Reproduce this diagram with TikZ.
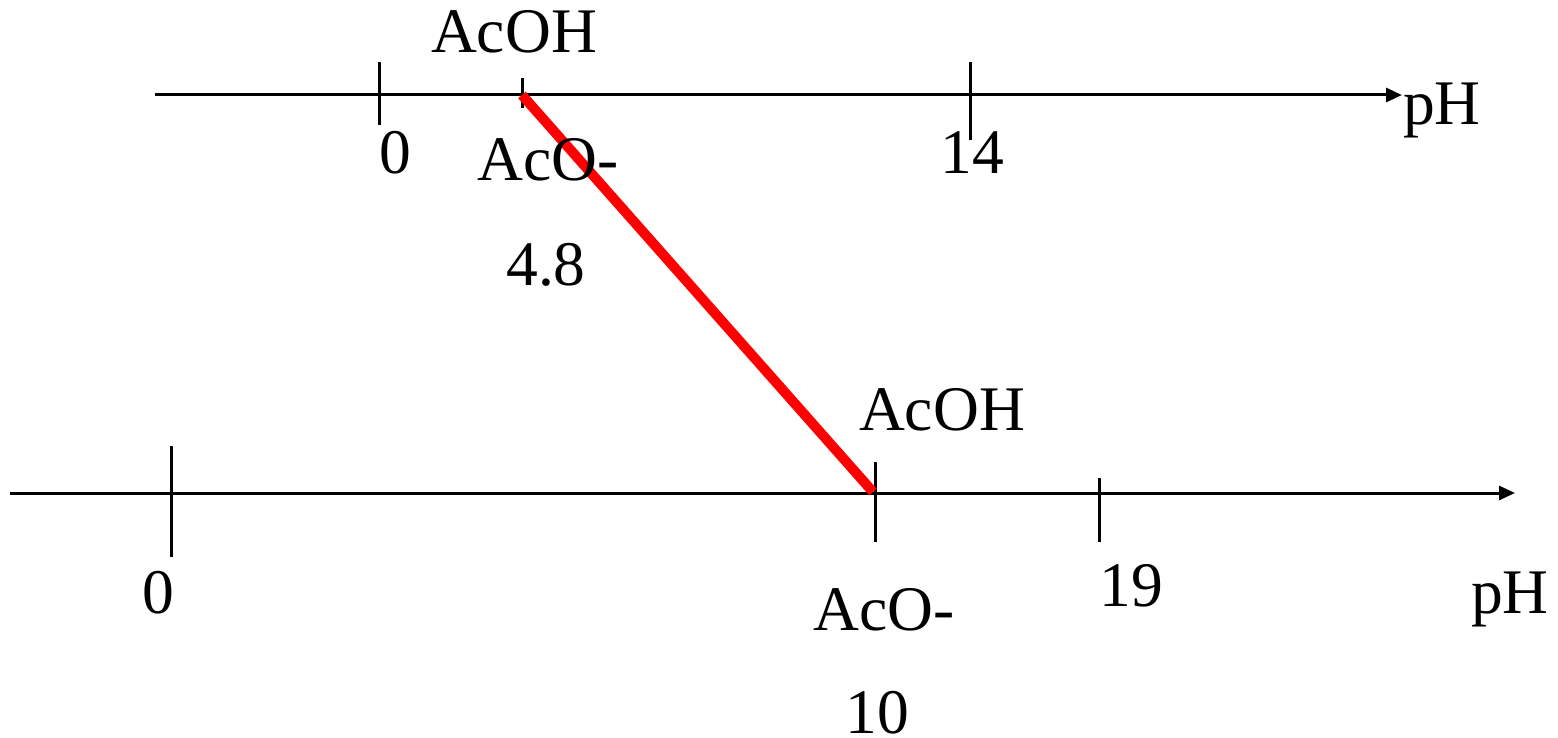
\documentclass[tikz,border=0pt]{standalone}
\usepackage{fontspec}
\setmainfont{Liberation Serif}
\usetikzlibrary{arrows.meta}
\begin{document}
\begin{tikzpicture}[x=1pt,y=-1pt,
  axisline/.style={line width=3pt,-{Triangle[length=16pt,width=14pt]}},
  tickline/.style={line width=3pt},
  lbl/.style={inner sep=0pt,anchor=base,font=\fontsize{63.5}{70}\selectfont},
  lblw/.style={lbl,anchor=base west},
  redline/.style={line width=10pt,red}]
\useasboundingbox (0,0) rectangle (1558,738);
% top axis
\coordinate (t0) at (155,95);
\coordinate (t1) at (1402,95);
\draw[axisline] (t0) -- (t1);
\coordinate (tA) at (379,62); \coordinate (tAe) at (379,125);
\draw[tickline] (tA) -- (tAe);
\coordinate (tB) at (522,78); \coordinate (tBe) at (522,108);
\draw[tickline] (tB) -- (tBe);
\coordinate (tC) at (970,62); \coordinate (tCe) at (970,140);
\draw[tickline] (tC) -- (tCe);
% bottom axis
\coordinate (b0) at (10,493);
\coordinate (b1) at (1515,493);
\draw[axisline] (b0) -- (b1);
\coordinate (bA) at (171,446); \coordinate (bAe) at (171,557);
\draw[tickline] (bA) -- (bAe);
\coordinate (bB) at (875,462); \coordinate (bBe) at (875,542);
\draw[tickline] (bB) -- (bBe);
\coordinate (bC) at (1099,478); \coordinate (bCe) at (1099,542);
\draw[tickline] (bC) -- (bCe);
% red line
\coordinate (r0) at (522,95);
\coordinate (r1) at (873,492);
\draw[redline] (r0) -- (r1);
% labels top
\node[lbl] (acoh1) at (514,53) {AcOH};
\node[lbl] (zero1) at (395,174) {0};
\node[lbl] (aco1) at (548,181) {AcO-};
\node[lbl] (n14) at (972,174) {14};
\node[lblw] (ph1) at (1403,125) {pH};
\node[lbl] (n48) at (546,285) {4.8};
% labels bottom
\node[lbl] (acoh2) at (942,430) {AcOH};
\node[lbl] (zero2) at (158,613) {0};
\node[lbl] (n19) at (1131,606) {19};
\node[lblw] (ph2) at (1471,613) {pH};
\node[lbl] (aco2) at (884,630) {AcO-};
\node[lbl] (n10) at (877,733) {10};
\end{tikzpicture}
\end{document}
